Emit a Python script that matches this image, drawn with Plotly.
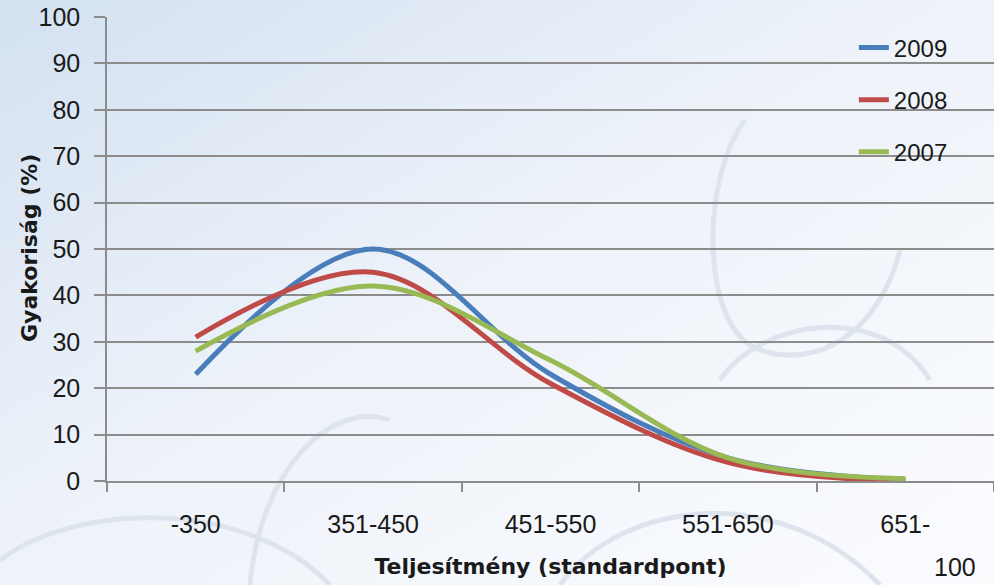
import plotly.graph_objects as go

categories = ["-350", "351-450", "451-550", "551-650", "651-"]
series_names = ["2009", "2008", "2007"]
values_2009 = [23, 50, 23, 5, 0.3]
values_2008 = [31, 45, 21, 4, 0]
values_2007 = [28, 42, 26, 5, 0.5]
colors = ["#4A7EBB", "#BE4B48", "#98B954"]
y_ticks = list(range(0, 101, 10))

FONT = "Liberation Sans"
TFONT = "DejaVu Sans"

svg = ("data:image/svg+xml;utf8,<svg xmlns='http://www.w3.org/2000/svg' width='994' height='585'>"
       "<defs><linearGradient id='g' x1='0' y1='0' x2='1' y2='1'>"
       "<stop offset='0' stop-color='%23d3e1f1'/><stop offset='0.45' stop-color='%23edf2f9'/>"
       "<stop offset='1' stop-color='%23fbfcfe'/></linearGradient></defs>"
       "<rect width='994' height='585' fill='url(%23g)'/>"
       "<g fill='none' stroke='%23dde4ee' stroke-width='5'>"
       "<path d='M745 120 C700 180 700 330 760 350 C820 370 880 330 900 250'/>"
       "<path d='M720 380 C760 320 880 300 930 380'/>"
       "<path d='M250 585 C260 470 330 400 390 420'/>"
       "<path d='M0 560 C80 500 250 500 330 585'/>"
       "<path d='M560 585 C620 500 780 480 880 585'/>"
       "</g></svg>")

fig = go.Figure()
for name, vals, col in zip(series_names, [values_2009, values_2008, values_2007], colors):
    fig.add_trace(go.Scatter(
        x=categories, y=vals, name=name, mode="lines",
        line=dict(color=col, width=5, shape="spline", smoothing=1.0),
        legendgroup=name,
    ))

fig.update_layout(
    width=994, height=585,
    margin=dict(l=107, r=0, t=17, b=104, autoexpand=False),
    paper_bgcolor="#f3f6fb",
    plot_bgcolor="rgba(0,0,0,0)",
    font=dict(family=FONT, color="#1a1a1a"),
    showlegend=True,
    legend=dict(
        x=0.842, y=0.982, xanchor="left", yanchor="top",
        bgcolor="rgba(0,0,0,0)", font=dict(size=24, family=FONT, color="#1a1a1a"),
        tracegroupgap=18, traceorder="grouped",
    ),
    images=[dict(source=svg, xref="paper", yref="paper", x=-107/887, y=1 + 17/464,
                 sizex=994/887, sizey=585/464, sizing="stretch", layer="below",
                 xanchor="left", yanchor="top")],
)

fig.update_xaxes(
    type="category", range=[-0.5, 4.5], automargin=False,
    showgrid=False, showline=True, linecolor="#8c8c8c", linewidth=1.5,
    ticks="outside", tickson="boundaries", ticklen=9, tickcolor="#8c8c8c", tickwidth=1.5,
    tickfont=dict(size=25, family=FONT, color="#1a1a1a"),
    ticklabelstandoff=20,
    title=dict(text="<b>Teljesítmény (standardpont)</b>", font=dict(size=22, family=TFONT, color="#1a1a1a"),
               standoff=22),
)
fig.update_yaxes(
    range=[0, 100], tickvals=y_ticks, automargin=False,
    showgrid=True, gridcolor="#8c8c8c", gridwidth=1.5,
    showline=True, linecolor="#8c8c8c", linewidth=1.5,
    ticks="outside", ticklen=11, tickcolor="#8c8c8c", tickwidth=1.5,
    tickfont=dict(size=25, family=FONT, color="#1a1a1a"),
    ticklabelstandoff=9, zeroline=False,
)

fig.add_annotation(text="<b>Gyakoriság (%)</b>", textangle=-90, xref="paper", yref="paper",
                   x=(30 - 107) / 887, y=(481 - 248) / 464, xanchor="center", yanchor="middle",
                   showarrow=False, font=dict(size=22, family=TFONT, color="#1a1a1a"))
fig.add_annotation(text="100", xref="paper", yref="paper",
                   x=(955 - 107) / 887, y=(481 - 567) / 464, xanchor="center", yanchor="middle",
                   showarrow=False, font=dict(size=25, family=FONT, color="#1a1a1a"))

fig.write_html("out.html", config={"displayModeBar": False},
               post_script="document.body.style.margin='0';document.body.style.overflow='hidden';")
